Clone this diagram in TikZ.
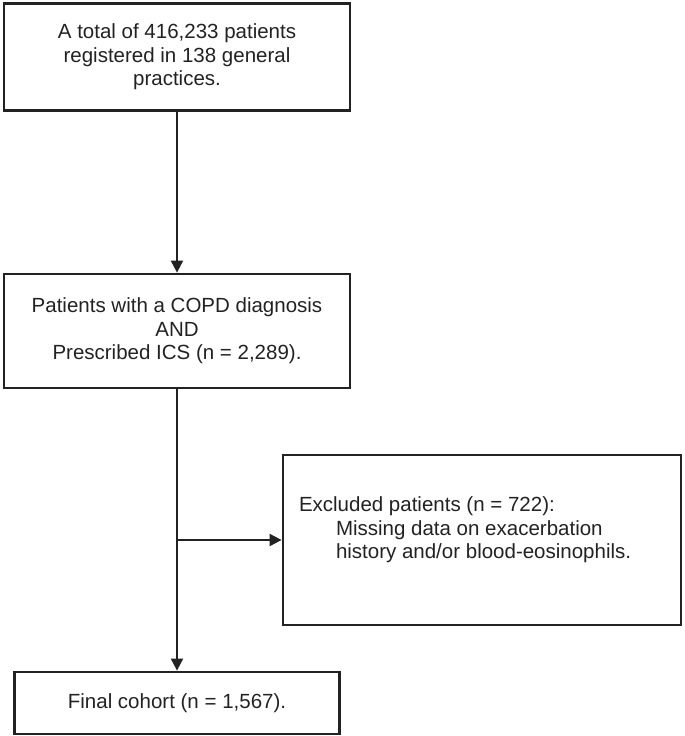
\documentclass[tikz,border=0pt]{standalone}
\usepackage{fontspec}
\setmainfont{Liberation Sans}
\usetikzlibrary{arrows.meta}
\definecolor{tinta}{HTML}{222222}
\begin{document}
\begin{tikzpicture}[x=1pt,y=-1pt,line width=2pt,
  caixa/.style={draw=tinta,line width=2.8pt,align=center,inner sep=0pt,text=tinta,font=\fontsize{20.5}{23.5}\selectfont},
  texto/.style={align=left,inner sep=0pt,text=tinta,font=\fontsize{20.5}{23.5}\selectfont},
  seta/.style={draw=tinta,line width=2pt,-{Triangle[length=12pt,width=12pt]}}]
  \useasboundingbox (0,0) rectangle (685,736);
%caixas
  \node[caixa,minimum width=346pt,minimum height=107pt] (total) at (177,57) {A total of 416,233 patients\\registered in 138 general\\practices.};
  \node[caixa,minimum width=346pt,minimum height=114pt] (copd) at (177,331) {Patients with a COPD diagnosis\\AND\\Prescribed ICS (n = 2,289).};
  \node[caixa,minimum width=398pt,minimum height=170pt] (excl) at (482,540) {};
  \node[texto,anchor=west] (excltexto) at (298,530) {Excluded patients (n = 722):\\\hspace*{37pt}Missing data on exacerbation\\\hspace*{37pt}history and/or blood-eosinophils.};
  \node[caixa,minimum width=325pt,minimum height=62pt] (final) at (177,703) {Final cohort (n = 1,567).};
%setas
  \draw[seta] (total.south) -- (copd.north);
  \draw[seta] (copd.south) -- (final.north);
  \coordinate (ramo) at (copd.south |- excl.west);
  \draw[seta] (ramo) -- (excl.west);
\end{tikzpicture}
\end{document}
